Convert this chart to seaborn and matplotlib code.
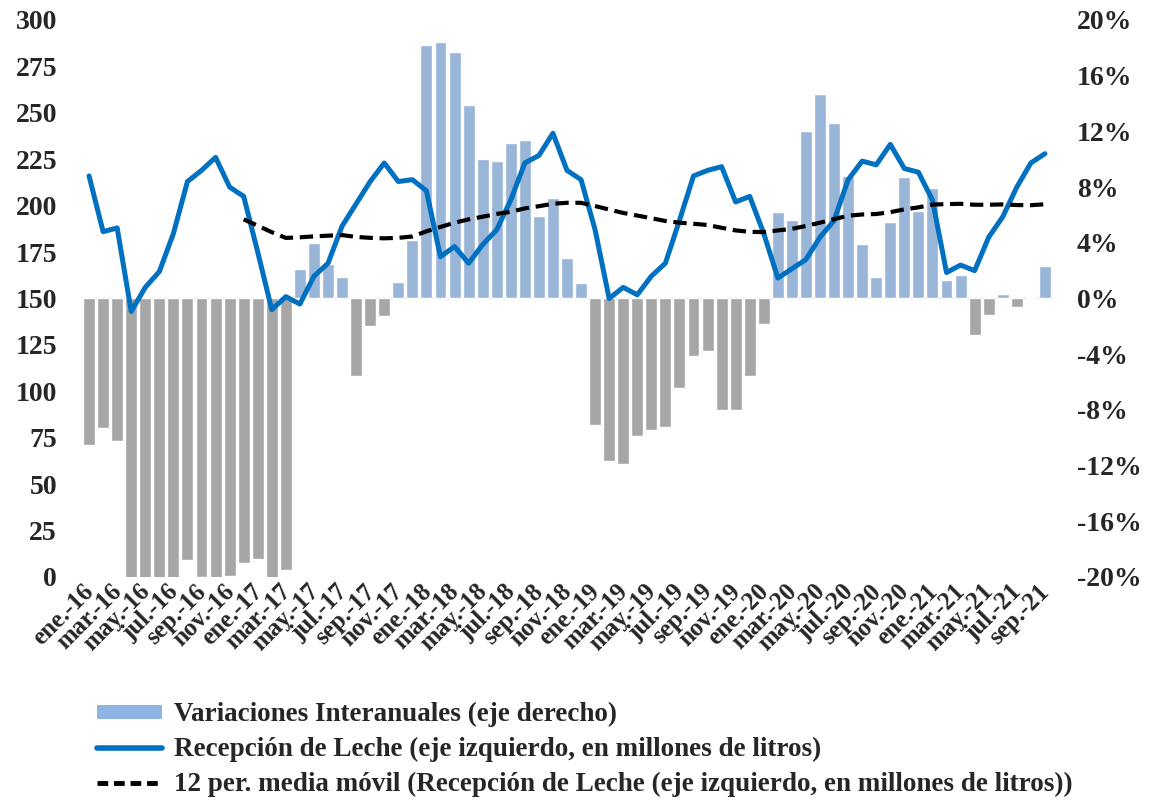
import pandas as pd
import matplotlib
matplotlib.use("Agg")
import matplotlib.pyplot as plt
import matplotlib.transforms as mtransforms
import seaborn as sns
from matplotlib.patches import Patch
from matplotlib.lines import Line2D
from matplotlib.ticker import FuncFormatter

# monthly data, ene-16 .. sep-21
meses = ["ene.", "feb.", "mar.", "abr.", "may.", "jun.",
         "jul.", "ago.", "sep.", "oct.", "nov.", "dic."]
anios = ["16", "17", "18", "19", "20", "21"]

# year-on-year change, % (right axis)
variacion = [
    -10.5, -9.3, -10.2, -20.1, -20.1, -20.1, -20.1, -18.8, -20.0, -20.1, -19.9, -19.0,
    -18.7, -20.1, -19.5, 2.1, 4.0, 2.45, 1.56, -5.6, -2.0, -1.25, 1.15, 4.2,
    18.2, 18.45, 17.7, 13.9, 10.0, 9.9, 11.2, 11.4, 5.9, 7.2, 2.9, 1.1,
    -9.1, -11.7, -11.9, -9.9, -9.45, -9.2, -6.4, -4.15, -3.8, -8.0, -8.0, -5.6,
    -1.8, 6.2, 5.65, 12.06, 14.65, 12.6, 8.8, 3.9, 1.56, 5.5, 8.7, 6.3,
    7.9, 1.3, 1.7, -2.6, -1.15, 0.3, -0.6, 0.0, 2.3,
]

# milk reception, millions of litres (left axis)
recepcion = [
    216, 186, 188, 143, 156, 164.5, 185, 213, 219, 226, 210, 205,
    175, 144, 151, 147, 162, 169, 189, 201, 213, 223, 213, 214,
    208, 172.5, 178, 169, 179, 187, 203, 223, 227, 239, 219, 214,
    187, 150, 156, 152, 162, 169, 192, 216, 219, 221, 202, 205,
    185, 161, 166, 171, 183, 192, 214, 224, 222, 233, 220, 218,
    203, 164, 168, 165, 183, 194, 210, 223, 228,
]

etiquetas = [f"{m}-{a}" for a in anios for m in meses][:len(recepcion)]

df = pd.DataFrame({
    "pos": range(len(recepcion)),
    "variacion": [v / 100 for v in variacion],
    "recepcion": recepcion,
})
df["signo"] = df["variacion"].apply(lambda v: "pos" if v >= 0 else "neg")
df["media_movil"] = df["recepcion"].rolling(12).mean()

sns.set_style("white")
plt.rcParams["font.family"] = ["Liberation Serif", "DejaVu Serif"]
plt.rcParams["font.weight"] = "bold"

fig = plt.figure(figsize=(11.57, 8), dpi=100)
ax = fig.add_axes([0.0709, 0.27875, 0.8383, 0.69625])

# bars on the base axes (right-hand scale)
sns.barplot(data=df, x="pos", y="variacion", hue="signo",
            palette={"pos": "#8EB4E3", "neg": "#A6A6A6"},
            dodge=False, width=0.85, legend=False, ax=ax)
ax.axhline(0, color="#D9D9D9", lw=0.8, zorder=0)
ax.set_ylim(-0.2, 0.2)
ax.set_yticks([-0.2, -0.16, -0.12, -0.08, -0.04, 0, 0.04, 0.08, 0.12, 0.16, 0.2])
ax.yaxis.set_major_formatter(FuncFormatter(lambda v, _: f"{v * 100:.0f}%"))
ax.set_xlim(-0.5, len(recepcion) - 0.5)

# lines on the twin axes (left-hand scale)
ax2 = ax.twinx()
sns.lineplot(data=df, x="pos", y="recepcion", color="#0070C0", lw=3.6, ax=ax2)
sns.lineplot(data=df, x="pos", y="media_movil", color="black", lw=3.0,
             dashes=False, ax=ax2)
ax2.lines[-1].set_linestyle((0, (3.2, 1.6)))
ax2.set_ylim(0, 300)
ax2.set_yticks(range(0, 301, 25))

# swap sides: percentages on the right, litres on the left
ax.yaxis.tick_right()
ax.yaxis.set_label_position("right")
ax2.yaxis.tick_left()
ax2.yaxis.set_label_position("left")

for a in (ax, ax2):
    a.set_xlabel("")
    a.set_ylabel("")
    for s in a.spines.values():
        s.set_visible(False)
    a.tick_params(axis="y", length=0, labelsize=20, pad=18)
    for t in a.get_yticklabels():
        t.set_fontweight("bold")

ax.tick_params(axis="x", length=0, pad=2)
ax.set_xticks(range(0, len(recepcion), 2))
ax.set_xticklabels(etiquetas[::2], rotation=45, ha="right",
                   rotation_mode="anchor", fontsize=18, fontweight="bold")
shift = mtransforms.ScaledTranslation(-5 / 72, 0, fig.dpi_scale_trans)
for t in ax.get_xticklabels():
    t.set_transform(t.get_transform() + shift)
ax2.tick_params(axis="x", length=0)

handles = [
    Patch(facecolor="#8EB4E3", edgecolor="none"),
    Line2D([0], [0], color="#0070C0", lw=4),
    Line2D([0], [0], color="black", lw=3.5, linestyle=(0, (2.2, 1.2))),
]
labels = [
    "Variaciones Interanuales (eje derecho)",
    "Recepción de Leche (eje izquierdo, en millones de litros)",
    "12 per. media móvil (Recepción de Leche (eje izquierdo, en millones de litros))",
]
fig.legend(handles, labels, loc="upper left", bbox_to_anchor=(0.072, 0.139),
           frameon=False, handlelength=2.4, handleheight=0.45,
           handletextpad=0.45, labelspacing=0.36, borderpad=0,
           prop={"weight": "bold", "size": 19.5})

fig.savefig("out.png", dpi=100)
